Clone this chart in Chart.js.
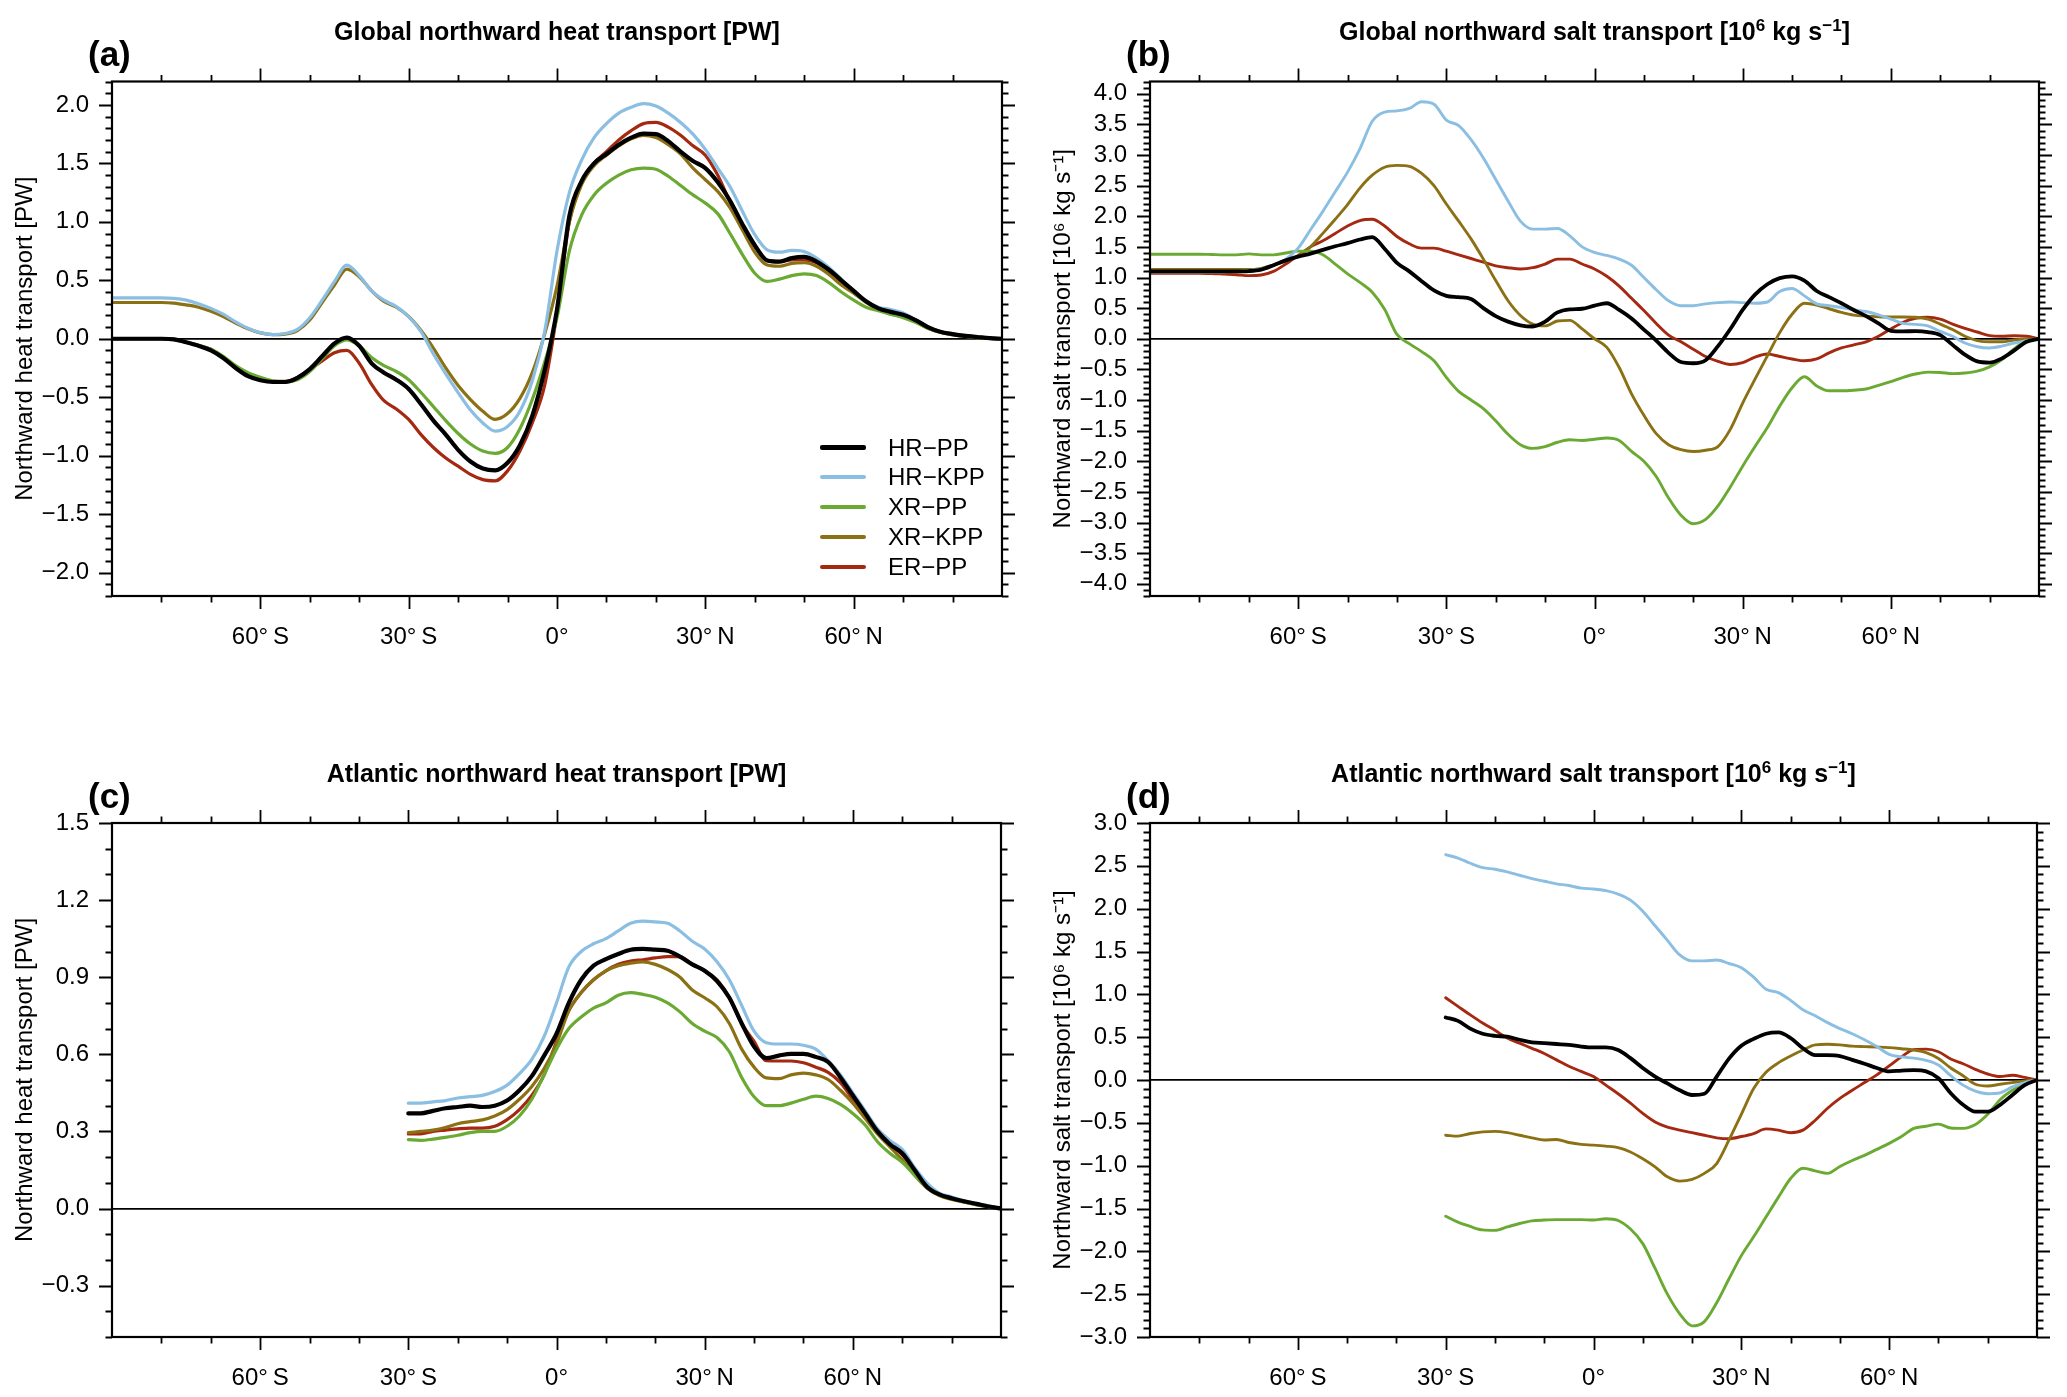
<!DOCTYPE html>
<html><head><meta charset="utf-8">
<script src="https://cdn.jsdelivr.net/npm/chart.js@4/dist/chart.umd.min.js"></script>
<style>
html,body{margin:0;padding:0;background:#fff;}
#wrap{position:relative;width:2067px;height:1397px;background:#fff;font-family:'Liberation Sans',Arial,Helvetica,sans-serif;color:#000;overflow:hidden;}
#wrap canvas{position:absolute;}
.ttl{position:absolute;width:900px;font-weight:bold;font-size:25px;line-height:30px;text-align:center;white-space:nowrap;}
.ttl sup{font-size:17px;line-height:0;vertical-align:9px;}
.lab{position:absolute;font-weight:bold;font-size:35px;line-height:40px;white-space:nowrap;}
.leg{position:absolute;font-size:24px;line-height:30px;white-space:nowrap;}
.sw{position:absolute;width:46px;}
</style></head><body><div id="wrap"></div>
<script>
const FONT = "'Liberation Sans', Arial, Helvetica, sans-serif";

// ---------- categories ----------
const latGlobal = [-90,-87.5,-85,-82.5,-80,-77.5,-75,-72.5,-70,-67.5,-65,-62.5,-60,-57.5,-55,-52.5,-50,-47.5,-45,-42.5,-40,-37.5,-35,-32.5,-30,-27.5,-25,-22.5,-20,-17.5,-15,-12.5,-10,-7.5,-5,-2.5,0,2.5,5,7.5,10,12.5,15,17.5,20,22.5,25,27.5,30,32.5,35,37.5,40,42.5,45,47.5,50,52.5,55,57.5,60,62.5,65,67.5,70,72.5,75,77.5,80,82.5,85,87.5,90];
const latAtlantic = [-30,-27.5,-25,-22.5,-20,-17.5,-15,-12.5,-10,-7.5,-5,-2.5,0,2.5,5,7.5,10,12.5,15,17.5,20,22.5,25,27.5,30,32.5,35,37.5,40,42.5,45,47.5,50,52.5,55,57.5,60,62.5,65,67.5,70,72.5,75,77.5,80,82.5,85,87.5,90];
const seriesNames = ['HR\u2212PP','HR\u2212KPP','XR\u2212PP','XR\u2212KPP','ER\u2212PP'];

// ---------- tick labels ----------
const xTickValues = [-60,-30,0,30,60];
const xTickLabels = ['60\u00b0\u2009S','30\u00b0\u2009S','0\u00b0','30\u00b0\u2009N','60\u00b0\u2009N'];
const yTicksA = [-2,-1.5,-1,-0.5,0,0.5,1,1.5,2];
const yTicksB = [-4,-3.5,-3,-2.5,-2,-1.5,-1,-0.5,0,0.5,1,1.5,2,2.5,3,3.5,4];
const yTicksC = [-0.3,0,0.3,0.6,0.9,1.2,1.5];
const yTicksD = [-3,-2.5,-2,-1.5,-1,-0.5,0,0.5,1,1.5,2,2.5,3];

// ---------- (a) Global heat transport [PW] ----------
const gHeatHRPP  = [0,0,0,0,0,-0.005,-0.03,-0.06,-0.10,-0.165,-0.25,-0.32,-0.355,-0.37,-0.37,-0.335,-0.26,-0.15,-0.04,0.01,-0.06,-0.21,-0.29,-0.35,-0.43,-0.56,-0.70,-0.82,-0.95,-1.05,-1.11,-1.125,-1.06,-0.91,-0.66,-0.27,0.25,1.05,1.35,1.5,1.58,1.66,1.72,1.755,1.75,1.69,1.60,1.52,1.46,1.34,1.18,0.98,0.80,0.67,0.66,0.69,0.70,0.66,0.59,0.50,0.41,0.32,0.26,0.23,0.205,0.16,0.10,0.06,0.04,0.025,0.015,0.005,0];
const gHeatHRKPP = [0.35,0.35,0.35,0.35,0.35,0.345,0.33,0.30,0.26,0.21,0.145,0.09,0.052,0.036,0.045,0.08,0.18,0.33,0.49,0.63,0.54,0.41,0.33,0.275,0.19,0.06,-0.13,-0.30,-0.46,-0.61,-0.72,-0.79,-0.75,-0.62,-0.36,0.06,0.75,1.25,1.53,1.72,1.84,1.93,1.98,2.01,1.99,1.93,1.85,1.75,1.62,1.46,1.30,1.09,0.89,0.76,0.74,0.755,0.745,0.69,0.61,0.51,0.41,0.32,0.27,0.25,0.22,0.16,0.10,0.06,0.04,0.03,0.015,0.005,0];
const gHeatXRPP  = [0,0,0,0,0,-0.005,-0.03,-0.055,-0.09,-0.15,-0.23,-0.29,-0.33,-0.36,-0.37,-0.35,-0.28,-0.17,-0.06,-0.01,-0.06,-0.16,-0.23,-0.28,-0.35,-0.46,-0.58,-0.70,-0.81,-0.90,-0.96,-0.98,-0.93,-0.77,-0.52,-0.2,0.18,0.75,1.06,1.23,1.33,1.40,1.445,1.46,1.45,1.39,1.31,1.23,1.16,1.07,0.90,0.72,0.56,0.49,0.51,0.54,0.555,0.54,0.48,0.40,0.33,0.27,0.24,0.21,0.18,0.14,0.09,0.055,0.035,0.02,0.01,0.003,0];
const gHeatXRKPP = [0.31,0.31,0.31,0.31,0.31,0.305,0.29,0.27,0.235,0.19,0.135,0.085,0.05,0.035,0.04,0.07,0.16,0.31,0.46,0.595,0.53,0.41,0.32,0.27,0.19,0.07,-0.08,-0.25,-0.40,-0.52,-0.62,-0.69,-0.64,-0.51,-0.29,0.04,0.45,1.0,1.32,1.48,1.57,1.65,1.71,1.74,1.72,1.66,1.58,1.46,1.36,1.26,1.12,0.93,0.74,0.63,0.62,0.645,0.65,0.62,0.55,0.46,0.39,0.31,0.25,0.21,0.19,0.145,0.09,0.055,0.035,0.02,0.01,0.003,0];
const gHeatERPP  = [0,0,0,0,0,-0.005,-0.03,-0.06,-0.09,-0.16,-0.24,-0.31,-0.35,-0.365,-0.365,-0.33,-0.26,-0.19,-0.12,-0.10,-0.21,-0.39,-0.53,-0.60,-0.69,-0.82,-0.93,-1.02,-1.09,-1.16,-1.205,-1.215,-1.13,-0.96,-0.72,-0.40,0.22,1.0,1.33,1.5,1.6,1.70,1.78,1.84,1.85,1.81,1.74,1.65,1.57,1.40,1.17,0.97,0.79,0.67,0.66,0.675,0.675,0.65,0.58,0.49,0.41,0.32,0.26,0.23,0.205,0.16,0.10,0.06,0.04,0.025,0.015,0.005,0];

// ---------- (b) Global salt transport [10^6 kg/s] ----------
const gSaltHRPP  = [1.10,1.10,1.10,1.10,1.10,1.10,1.10,1.10,1.105,1.13,1.2,1.28,1.34,1.39,1.45,1.51,1.56,1.62,1.66,1.47,1.24,1.1,0.94,0.79,0.7,0.68,0.65,0.5,0.37,0.28,0.22,0.2,0.28,0.43,0.48,0.49,0.54,0.58,0.47,0.33,0.15,-0.03,-0.23,-0.38,-0.40,-0.35,-0.12,0.16,0.47,0.72,0.89,0.99,1.02,0.95,0.78,0.68,0.58,0.47,0.37,0.25,0.13,0.12,0.125,0.11,0.06,-0.1,-0.26,-0.37,-0.39,-0.32,-0.19,-0.05,0];
const gSaltHRKPP = [1.09,1.09,1.09,1.09,1.09,1.09,1.09,1.10,1.11,1.14,1.2,1.3,1.48,1.78,2.08,2.4,2.72,3.1,3.55,3.7,3.72,3.76,3.87,3.83,3.57,3.48,3.25,2.95,2.6,2.25,1.92,1.79,1.79,1.80,1.68,1.5,1.41,1.36,1.30,1.2,1.0,0.8,0.62,0.54,0.54,0.57,0.59,0.60,0.59,0.58,0.60,0.77,0.82,0.7,0.57,0.54,0.51,0.47,0.445,0.39,0.32,0.25,0.235,0.21,0.12,0.04,-0.07,-0.13,-0.15,-0.12,-0.07,-0.03,0];
const gSaltXRPP  = [1.38,1.38,1.38,1.38,1.38,1.375,1.37,1.37,1.385,1.37,1.37,1.4,1.43,1.43,1.37,1.22,1.06,0.92,0.76,0.48,0.07,-0.08,-0.21,-0.36,-0.63,-0.86,-1.0,-1.14,-1.34,-1.56,-1.73,-1.79,-1.76,-1.69,-1.65,-1.66,-1.64,-1.62,-1.66,-1.84,-2.0,-2.25,-2.6,-2.88,-3.02,-2.95,-2.73,-2.42,-2.08,-1.76,-1.45,-1.1,-0.8,-0.62,-0.77,-0.85,-0.85,-0.84,-0.82,-0.76,-0.70,-0.63,-0.575,-0.545,-0.55,-0.57,-0.56,-0.53,-0.46,-0.34,-0.16,-0.04,0];
const gSaltXRKPP = [1.13,1.13,1.13,1.13,1.13,1.13,1.13,1.13,1.13,1.15,1.2,1.27,1.35,1.5,1.72,1.95,2.19,2.46,2.67,2.8,2.83,2.815,2.7,2.5,2.2,1.92,1.63,1.3,0.95,0.62,0.38,0.24,0.21,0.29,0.3,0.16,0.0,-0.14,-0.47,-0.9,-1.25,-1.55,-1.73,-1.81,-1.84,-1.82,-1.76,-1.48,-1.05,-0.66,-0.28,0.1,0.4,0.58,0.55,0.49,0.43,0.385,0.37,0.36,0.355,0.355,0.35,0.32,0.24,0.15,0.04,-0.03,-0.05,-0.05,-0.02,-0.005,0];
const gSaltERPP  = [1.07,1.07,1.07,1.07,1.07,1.065,1.055,1.045,1.03,1.04,1.1,1.22,1.36,1.5,1.6,1.72,1.84,1.93,1.95,1.84,1.67,1.55,1.48,1.48,1.43,1.37,1.31,1.25,1.19,1.16,1.14,1.16,1.22,1.30,1.30,1.22,1.14,1.02,0.86,0.66,0.46,0.25,0.06,-0.05,-0.17,-0.29,-0.37,-0.42,-0.39,-0.30,-0.25,-0.29,-0.33,-0.36,-0.33,-0.23,-0.15,-0.1,-0.05,0.04,0.16,0.27,0.335,0.35,0.32,0.24,0.17,0.11,0.05,0.04,0.05,0.04,0];

// ---------- (c) Atlantic heat transport [PW] ----------
const aHeatHRPP  = [0.37,0.37,0.38,0.39,0.395,0.40,0.395,0.40,0.42,0.46,0.515,0.595,0.68,0.8,0.89,0.945,0.97,0.99,1.007,1.01,1.007,1.003,0.98,0.95,0.925,0.885,0.82,0.72,0.63,0.585,0.595,0.602,0.602,0.59,0.57,0.51,0.44,0.37,0.3,0.25,0.215,0.15,0.085,0.055,0.04,0.028,0.018,0.008,0];
const aHeatHRKPP = [0.41,0.41,0.415,0.42,0.43,0.435,0.44,0.455,0.48,0.525,0.58,0.67,0.8,0.94,1.0,1.03,1.05,1.08,1.11,1.118,1.115,1.11,1.08,1.04,1.01,0.96,0.89,0.79,0.69,0.645,0.64,0.64,0.635,0.62,0.575,0.52,0.45,0.38,0.31,0.265,0.23,0.16,0.1,0.06,0.045,0.03,0.02,0.01,0];
const aHeatXRPP  = [0.268,0.265,0.27,0.277,0.285,0.295,0.30,0.30,0.32,0.36,0.425,0.52,0.62,0.70,0.745,0.78,0.80,0.83,0.84,0.833,0.822,0.80,0.765,0.72,0.69,0.665,0.61,0.51,0.435,0.40,0.40,0.41,0.425,0.437,0.428,0.405,0.37,0.325,0.26,0.215,0.18,0.13,0.085,0.055,0.04,0.025,0.015,0.007,0];
const aHeatXRKPP = [0.295,0.30,0.305,0.315,0.33,0.338,0.345,0.36,0.385,0.425,0.475,0.545,0.64,0.77,0.84,0.89,0.925,0.945,0.955,0.96,0.95,0.93,0.9,0.85,0.82,0.785,0.72,0.62,0.55,0.508,0.505,0.52,0.527,0.52,0.502,0.46,0.41,0.35,0.29,0.24,0.19,0.13,0.08,0.05,0.035,0.025,0.015,0.007,0];
const aHeatERPP  = [0.29,0.29,0.30,0.305,0.31,0.313,0.313,0.32,0.346,0.385,0.44,0.52,0.65,0.77,0.84,0.89,0.925,0.95,0.963,0.968,0.975,0.98,0.98,0.95,0.925,0.89,0.82,0.72,0.65,0.575,0.574,0.574,0.567,0.55,0.53,0.49,0.425,0.36,0.295,0.25,0.21,0.15,0.085,0.055,0.04,0.028,0.018,0.008,0];

// ---------- (d) Atlantic salt transport [10^6 kg/s] ----------
const aSaltHRPP  = [0.73,0.69,0.6,0.54,0.515,0.505,0.47,0.44,0.43,0.42,0.41,0.39,0.38,0.38,0.35,0.255,0.14,0.04,-0.04,-0.12,-0.175,-0.16,0.04,0.25,0.4,0.48,0.54,0.555,0.49,0.37,0.29,0.29,0.28,0.235,0.19,0.14,0.1,0.11,0.115,0.1,0.02,-0.155,-0.29,-0.37,-0.37,-0.29,-0.175,-0.06,0];
const aSaltHRKPP = [2.63,2.59,2.53,2.48,2.46,2.43,2.39,2.35,2.32,2.29,2.27,2.24,2.23,2.21,2.17,2.1,1.97,1.8,1.63,1.46,1.39,1.39,1.40,1.36,1.31,1.2,1.06,1.02,0.93,0.82,0.75,0.67,0.6,0.54,0.47,0.39,0.30,0.27,0.255,0.23,0.175,0.05,-0.06,-0.13,-0.16,-0.15,-0.08,-0.03,0];
const aSaltXRPP  = [-1.59,-1.66,-1.71,-1.75,-1.755,-1.715,-1.675,-1.645,-1.635,-1.63,-1.63,-1.63,-1.635,-1.62,-1.64,-1.74,-1.91,-2.2,-2.5,-2.73,-2.87,-2.82,-2.6,-2.32,-2.05,-1.83,-1.6,-1.37,-1.15,-1.03,-1.06,-1.09,-1.01,-0.94,-0.88,-0.81,-0.74,-0.66,-0.565,-0.54,-0.515,-0.56,-0.565,-0.52,-0.4,-0.23,-0.12,-0.05,0];
const aSaltXRKPP = [-0.645,-0.655,-0.625,-0.605,-0.6,-0.615,-0.645,-0.675,-0.7,-0.695,-0.73,-0.752,-0.76,-0.772,-0.79,-0.84,-0.92,-1.015,-1.13,-1.18,-1.16,-1.09,-0.975,-0.7,-0.4,-0.1,0.09,0.2,0.28,0.35,0.41,0.417,0.41,0.395,0.39,0.385,0.378,0.365,0.35,0.32,0.25,0.14,0.05,-0.05,-0.07,-0.05,-0.03,-0.01,0];
const aSaltERPP  = [0.96,0.86,0.76,0.665,0.58,0.49,0.43,0.37,0.31,0.235,0.16,0.1,0.04,-0.06,-0.16,-0.27,-0.39,-0.49,-0.55,-0.585,-0.615,-0.645,-0.675,-0.685,-0.66,-0.625,-0.57,-0.585,-0.615,-0.585,-0.47,-0.33,-0.215,-0.12,-0.03,0.06,0.165,0.27,0.355,0.36,0.33,0.245,0.19,0.125,0.07,0.04,0.055,0.03,0];

// ---------- styles ----------
const seriesColors = ['#000000','rgb(138,190,226)','rgb(106,170,50)','rgb(139,113,20)','rgb(165,40,16)'];

const panels = [
  {key:'a', left:0, top:0, w:1033, h:698, area:{l:112,r:1002,t:81.5,b:596}, ymin:-2.2, ymax:2.2, yticks:yTicksA,
   lat:latGlobal, series:[gHeatHRPP,gHeatHRKPP,gHeatXRPP,gHeatXRKPP,gHeatERPP], bw0:4.2, bw:3.2,
   ytitle:'Northward heat transport [PW]',
   title:'Global northward heat transport [PW]', label:'(a)'},
  {key:'b', left:1033, top:0, w:1034, h:698, area:{l:117,r:1006,t:81.5,b:596}, ymin:-4.2, ymax:4.2, yticks:yTicksB,
   lat:latGlobal, series:[gSaltHRPP,gSaltHRKPP,gSaltXRPP,gSaltXRKPP,gSaltERPP], bw0:3.8, bw:2.9,
   ytitle:'Northward salt transport [10\u2076 kg s\u207b\u00b9]',
   title:'Global northward salt transport [10<sup>6</sup> kg s<sup>\u22121</sup>]', label:'(b)'},
  {key:'c', left:0, top:698, w:1033, h:699, area:{l:112,r:1001,t:125,b:639}, ymin:-0.5, ymax:1.5, yticks:yTicksC,
   lat:latAtlantic, series:[aHeatHRPP,aHeatHRKPP,aHeatXRPP,aHeatXRKPP,aHeatERPP], bw0:4.2, bw:3.2,
   ytitle:'Northward heat transport [PW]',
   title:'Atlantic northward heat transport [PW]', label:'(c)'},
  {key:'d', left:1033, top:698, w:1034, h:699, area:{l:117,r:1004,t:125,b:639}, ymin:-3, ymax:3, yticks:yTicksD,
   lat:latAtlantic, series:[aSaltHRPP,aSaltHRKPP,aSaltXRPP,aSaltXRKPP,aSaltERPP], bw0:3.8, bw:2.9,
   ytitle:'Northward salt transport [10\u2076 kg s\u207b\u00b9]',
   title:'Atlantic northward salt transport [10<sup>6</sup> kg s<sup>\u22121</sup>]', label:'(d)'}
];

const MAJ = 13, MIN = 6.5;
function fmtY(v){ const s = Math.abs(v).toFixed(1); return (v < -1e-9 ? '\u2212' : '') + s; }

function framePlugin(p){
  return {
    id:'frame_'+p.key,
    afterDatasetsDraw(chart){
      const {ctx, chartArea:a} = chart;
      const xs = chart.scales.x, ys = chart.scales.y;
      ctx.save();
      ctx.strokeStyle = '#000';
      ctx.lineWidth = 1.8;
      ctx.beginPath();
      for (let v = -80; v <= 80; v += 10) {
        const px = Math.round(xs.getPixelForValue(v)) + 0.5;
        const len = xTickValues.includes(v) ? MAJ : MIN;
        ctx.moveTo(px, a.bottom); ctx.lineTo(px, a.bottom + len);
        ctx.moveTo(px, a.top); ctx.lineTo(px, a.top - len);
      }
      const n = Math.round((p.ymax - p.ymin) / 0.1);
      for (let i = 0; i <= n; i++) {
        const v = +(p.ymin + i * 0.1).toFixed(2);
        const isMaj = p.yticks.some(t => Math.abs(t - v) < 1e-6);
        const py = Math.round(ys.getPixelForValue(v)) + 0.5;
        const len = isMaj ? MAJ : MIN;
        ctx.moveTo(a.left, py); ctx.lineTo(a.left - len, py);
        ctx.moveTo(a.right, py); ctx.lineTo(a.right + len, py);
      }
      ctx.stroke();
      ctx.lineWidth = 2.2;
      ctx.strokeRect(a.left, a.top, a.right - a.left, a.bottom - a.top);
      ctx.restore();
    }
  };
}

const wrap = document.getElementById('wrap');

function makePanel(p){
  const cv = document.createElement('canvas');
  cv.width = p.w; cv.height = p.h;
  cv.style.left = p.left + 'px'; cv.style.top = p.top + 'px';
  cv.style.width = p.w + 'px'; cv.style.height = p.h + 'px';
  wrap.appendChild(cv);
  const datasets = p.series.map((vals, i) => ({
    label: seriesNames[i],
    data: p.lat.map((x, j) => ({x: x, y: vals[j]})),
    borderColor: seriesColors[i],
    backgroundColor: seriesColors[i],
    borderWidth: i === 0 ? p.bw0 : p.bw,
    pointRadius: 0,
    fill: false,
    cubicInterpolationMode: 'monotone',
    borderJoinStyle: 'round',
    borderCapStyle: 'round'
  }));
  new Chart(cv, {
    type: 'line',
    data: {datasets},
    options: {
      responsive: false, animation: false, devicePixelRatio: 1,
      layout: {padding: {left: 0, top: p.area.t, right: p.w - p.area.r, bottom: 0}},
      plugins: {legend: {display: false}, tooltip: {enabled: false}, title: {display: false}},
      scales: {
        x: {
          type: 'linear', min: -90, max: 90, position: 'bottom',
          afterBuildTicks: s => { s.ticks = xTickValues.map(v => ({value: v})); },
          afterFit: s => { s.height = p.h - p.area.b; },
          ticks: {autoSkip: false, maxRotation: 0, padding: 19, color: '#000',
                  font: {family: FONT, size: 24},
                  callback: v => { const k = xTickValues.indexOf(v); return k >= 0 ? xTickLabels[k] : ''; }},
          grid: {display: false},
          border: {display: false}
        },
        y: {
          type: 'linear', min: p.ymin, max: p.ymax, position: 'left',
          afterBuildTicks: s => { s.ticks = p.yticks.map(v => ({value: v})); },
          afterFit: s => { s.width = p.area.l; },
          ticks: {padding: 23, color: '#000', font: {family: FONT, size: 24}, callback: v => fmtY(v)},
          grid: {display: true, drawTicks: false, lineWidth: 1.8,
                 color: c => (c.tick && Math.abs(c.tick.value) < 1e-9) ? '#000' : 'rgba(0,0,0,0)'},
          border: {display: false},
          title: {display: true, text: p.ytitle, color: '#000', font: {family: FONT, size: 24},
                  padding: {top: p.area.l - 87 - 14.4, bottom: 0}}
        }
      }
    },
    plugins: [framePlugin(p)]
  });

  const t = document.createElement('div');
  t.className = 'ttl';
  t.innerHTML = p.title;
  const cx = p.left + (p.area.l + p.area.r) / 2;
  t.style.left = (cx - 450) + 'px';
  t.style.top = (p.top + p.area.t - 50.5 - 15) + 'px';
  wrap.appendChild(t);
  const l = document.createElement('div');
  l.className = 'lab';
  l.textContent = p.label;
  l.style.left = (p.left + p.area.l - 24) + 'px';
  l.style.top = (p.top + p.area.t - 27.5 - 20) + 'px';
  wrap.appendChild(l);
}

panels.forEach(makePanel);

// legend inside panel (a)
const legTop = 447.5, legStep = 29.8;
seriesNames.forEach((name, i) => {
  const yc = legTop + i * legStep;
  const sw = document.createElement('div');
  sw.className = 'sw';
  const hh = i === 0 ? 5 : 4;
  sw.style.left = '820px'; sw.style.top = (yc - hh / 2) + 'px';
  sw.style.height = hh + 'px'; sw.style.background = seriesColors[i];
  sw.style.borderRadius = '2px';
  wrap.appendChild(sw);
  const tx = document.createElement('div');
  tx.className = 'leg';
  tx.textContent = name;
  tx.style.left = '888px'; tx.style.top = (yc - 15) + 'px';
  wrap.appendChild(tx);
});
</script></body></html>
